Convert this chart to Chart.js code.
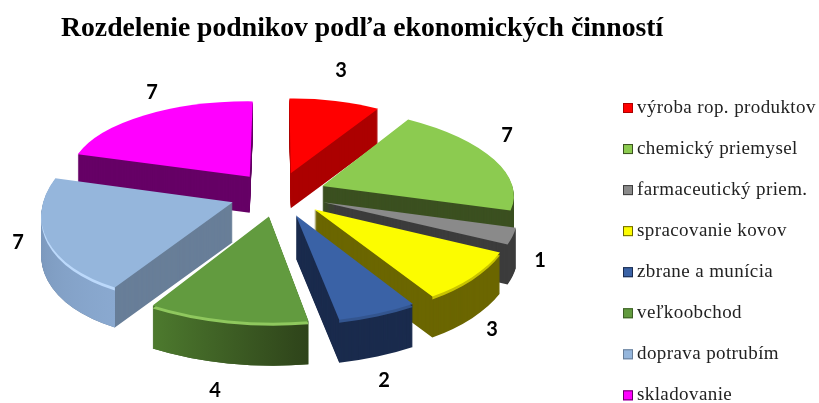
<!DOCTYPE html>
<html>
<head>
<meta charset="utf-8">
<style>
  html, body { margin: 0; padding: 0; background: #fff; }
  #wrap { width: 819px; height: 403px; }
</style>
<script src="https://cdn.jsdelivr.net/npm/chart.js@4"></script>
</head>
<body>
<div id="wrap"><canvas id="chart" width="819" height="403"></canvas></div>
<script>
// Data
const categories = ['výroba rop. produktov', 'chemický priemysel', 'farmaceutický priem.', 'spracovanie kovov',
  'zbrane a munícia', 'veľkoobchod', 'doprava potrubím', 'skladovanie'];
const counts = [3, 7, 1, 3, 2, 4, 7, 7];

// Colours of the slices
const topColors = ['#ff0000', '#8ccb50', '#8a8a8a', '#fcfc00', '#3a62a6', '#629b3f', '#95b6dc', '#ff00ff'];
const wallColors = ['#ac0000', '#3b5020', '#3c3c3c', '#6b6600', '#1a2b4d', '#3d5f26', '#687e98', '#660066'];
const outerWalls = [null, null, null, null, null, ['#4d7a2e', '#2e431a'], ['#7591b4', '#8aa9d0'], null];
const rimColors = [null, null, null, '#c9c400', '#33558f', '#8fc85e', '#bcd9fb', null];

// Back slices first, the front ones paint over them
const drawOrder = [7, 0, 1, 2, 6, 3, 5, 4];

// Labels do not follow the slices in the original, so they get their own spots
const labelSpots = [[341, 71], [507, 136], [540, 261], [492, 330], [384, 381], [215, 391], [18, 243], [152, 93]];

// Fake 3D view of the pie
const view = { cx: 278, cy: 194, squash: 0.464, persp: 0.00063, radius: 190, explode: 48, depth: 38.5 };

// Legend on the right, the built in one can't get the box this close to the text
const legendBox = { x: 623, y: 108, size: 10, rowGap: 41.05, textX: 637 };

function project(u, v) {
  const k = 1 / (1 - view.persp * v);
  return { x: view.cx + u * k, y: view.cy + view.squash * v * k, k: k };
}

// Affine map that puts the arc's tip and both outer corners on their projected spots
function sliceView(el) {
  const mid = (el.startAngle + el.endAngle) / 2;
  const tx = Math.cos(mid) * view.explode;
  const ty = Math.sin(mid) * view.explode;
  const r = el.outerRadius;
  const c1 = [Math.cos(el.startAngle) * r, Math.sin(el.startAngle) * r];
  const c2 = [Math.cos(el.endAngle) * r, Math.sin(el.endAngle) * r];
  const p0 = project(tx, ty);
  const p1 = project(tx + c1[0], ty + c1[1]);
  const p2 = project(tx + c2[0], ty + c2[1]);
  const det = c1[0] * c2[1] - c2[0] * c1[1];
  const d1x = p1.x - p0.x, d1y = p1.y - p0.y, d2x = p2.x - p0.x, d2y = p2.y - p0.y;
  const a = (d1x * c2[1] - d2x * c1[1]) / det;
  const c = (d2x * c1[0] - d1x * c2[0]) / det;
  const b = (d1y * c2[1] - d2y * c1[1]) / det;
  const d = (d2y * c1[0] - d1y * c2[0]) / det;
  const centre = project(tx + Math.cos(mid) * r * 0.6, ty + Math.sin(mid) * r * 0.6);
  return {
    m: [a, b, c, d, p0.x - a * el.x - c * el.y, p0.y - b * el.x - d * el.y],
    mid: mid, p1: p1, p2: p2, wall: view.depth * centre.k
  };
}

// Draw the library's arc element with another fill
function paintArc(ctx, el, sv, fill, shift) {
  const copy = Object.assign(Object.create(el), { options: { ...el.options, backgroundColor: fill } });
  ctx.save();
  ctx.translate(0, shift);
  ctx.transform(...sv.m);
  copy.draw(ctx);
  ctx.restore();
}

const fakePie3d = {
  id: 'fakePie3d',
  beforeDatasetsDraw(chart) {
    const ctx = chart.ctx;
    const arcs = chart.getDatasetMeta(0).data;
    drawOrder.forEach(i => {
      const el = arcs[i];
      const sv = sliceView(el);
      const h = Math.round(sv.wall);

      // Side walls
      for (let s = h; s > 0; s--) paintArc(ctx, el, sv, wallColors[i], s);

      // Only the round edge is shaded differently
      ctx.save();
      ctx.beginPath();
      if (Math.cos(sv.mid) > 0) ctx.rect(sv.p2.x, 0, 819, 403);
      else ctx.rect(0, 0, sv.p1.x, 403);
      ctx.clip();
      if (outerWalls[i]) {
        const r = el.outerRadius;
        const g = ctx.createLinearGradient(
          el.x + Math.cos(el.endAngle) * r, el.y + Math.sin(el.endAngle) * r,
          el.x + Math.cos(el.startAngle) * r, el.y + Math.sin(el.startAngle) * r);
        g.addColorStop(0, outerWalls[i][0]);
        g.addColorStop(1, outerWalls[i][1]);
        for (let s = h; s > 0; s--) paintArc(ctx, el, sv, g, s);
      }
      if (rimColors[i]) paintArc(ctx, el, sv, rimColors[i], 3);
      ctx.restore();

      paintArc(ctx, el, sv, topColors[i], 0);
    });
    return false;
  },
  afterDraw(chart) {
    const ctx = chart.ctx;
    ctx.save();
    ctx.textBaseline = 'middle';

    // Value labels
    ctx.font = 'bold 20px Lato';
    ctx.fillStyle = '#000';
    ctx.textAlign = 'center';
    counts.forEach((n, i) => ctx.fillText(String(n), labelSpots[i][0], labelSpots[i][1]));

    // Legend
    ctx.textAlign = 'left';
    ctx.font = '19px "Liberation Serif"';
    ctx.letterSpacing = '0.4px';
    categories.forEach((name, i) => {
      const y = legendBox.y + legendBox.rowGap * i;
      ctx.fillStyle = topColors[i];
      ctx.strokeStyle = wallColors[i];
      ctx.fillRect(legendBox.x, y - legendBox.size / 2, legendBox.size, legendBox.size);
      ctx.strokeRect(legendBox.x + 0.5, y - legendBox.size / 2 + 0.5, legendBox.size - 1, legendBox.size - 1);
      ctx.fillStyle = '#222';
      ctx.fillText(name, legendBox.textX, y);
    });
    ctx.restore();
  }
};

new Chart(document.getElementById('chart'), {
  type: 'pie',
  data: {
    labels: categories,
    datasets: [{ data: counts, backgroundColor: topColors, borderWidth: 0, radius: view.radius }]
  },
  options: {
    responsive: false,
    animation: false,
    layout: { padding: { left: 61 } },
    plugins: {
      title: {
        display: true,
        text: 'Rozdelenie podnikov podľa ekonomických činností',
        align: 'start',
        color: '#000',
        font: { family: '"Liberation Serif"', size: 27.7, weight: 'bold' },
        padding: { top: 12, bottom: 0 }
      },
      legend: { display: false },
      tooltip: { enabled: false }
    }
  },
  plugins: [fakePie3d]
});
</script>
</body>
</html>
